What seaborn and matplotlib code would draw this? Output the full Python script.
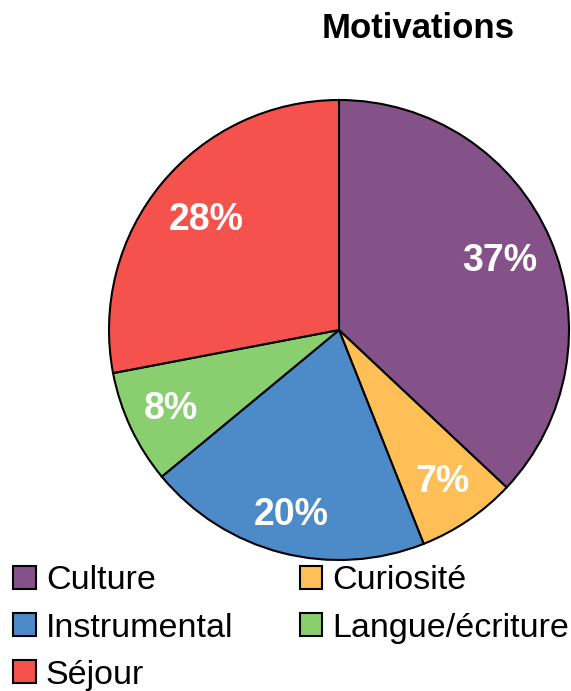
import numpy as np
import matplotlib
matplotlib.use("Agg")
import matplotlib.pyplot as plt
import seaborn as sns
from matplotlib.patches import Patch

categories = ["Culture", "Curiosité", "Instrumental", "Langue/écriture", "Séjour"]
values = [37, 7, 20, 8, 28]
colors = ["#845289", "#FDBF56", "#4C8AC8", "#8ACF6F", "#F5524E"]
label_dist = [0.76, 0.80, 0.83, 0.81, 0.75]

sns.set_theme(style="white")
plt.rcParams['font.family'] = ['Liberation Sans', 'DejaVu Sans']
plt.rcParams['text.color'] = 'black'

W, H = 571, 691
fig = plt.figure(figsize=(W / 100, H / 100), dpi=100)
cx, cy, r = 339, 330, 230
ax = fig.add_axes([(cx - r) / W, (H - cy - r) / H, 2 * r / W, 2 * r / H])

wedges, _ = ax.pie(values, colors=colors, startangle=90, counterclock=False,
                   wedgeprops=dict(edgecolor="black", linewidth=1.5))
ax.set_xlim(-1, 1)
ax.set_ylim(-1, 1)
ax.set_aspect("equal")

for w, v, d in zip(wedges, values, label_dist):
    ang = np.deg2rad((w.theta1 + w.theta2) / 2)
    ax.text(d * np.cos(ang), d * np.sin(ang), f"{v}%", color="white",
            fontsize=27, fontweight="bold", ha="center", va="center")

fig.text(418 / W, 1 - 29 / H, "Motivations", fontsize=25, fontweight="bold",
         color="black", ha="center", va="center")

handles = [Patch(facecolor=c, edgecolor="black", linewidth=1.5) for c in colors]
order = [0, 2, 4, 1, 3]
leg = fig.legend([handles[i] for i in order], [categories[i] for i in order],
                 ncol=2, loc="upper left", bbox_to_anchor=(3 / W, 1 - 555 / H),
                 frameon=False, fontsize=24.5, handlelength=0.66, handleheight=0.66,
                 handletextpad=0.3, columnspacing=1.95, labelspacing=0.48,
                 borderaxespad=0, borderpad=0.3)
for t in leg.get_texts():
    t.set_color("black")

fig.savefig("out.png", dpi=100)
